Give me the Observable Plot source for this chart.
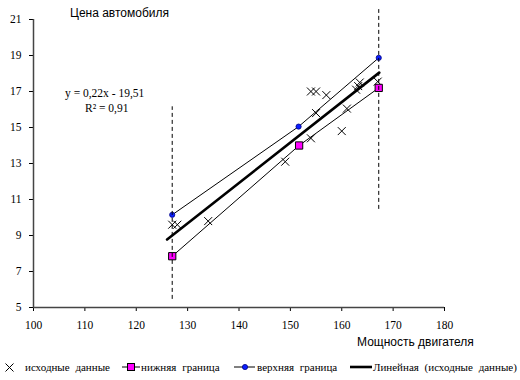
<!DOCTYPE html>
<html>
<head>
<meta charset="utf-8">
<script src="https://cdn.jsdelivr.net/npm/d3@7"></script>
<script src="https://cdn.jsdelivr.net/npm/@observablehq/plot@0.6"></script>
<style>
  html, body { margin: 0; padding: 0; background: #fff; }
  #wrap { position: relative; width: 520px; height: 380px; overflow: hidden; }
  .sans { font-family: "Liberation Sans", Arial, sans-serif; font-size: 12px; color: #000; position: absolute; white-space: nowrap; }
  .serif { font-family: "Liberation Serif", "Times New Roman", serif; font-size: 11px; color: #000; position: absolute; white-space: nowrap; }
  .leg { position: absolute; top: 359px; height: 16px; display: flex; align-items: center; font-family: "Liberation Serif", "Times New Roman", serif; font-size: 11px; white-space: nowrap; word-spacing: 3px; }
  .leg svg { display: block; }
</style>
</head>
<body>
<div id="wrap"></div>
<script>
// Source data (исходные данные): engine power vs car price
const power = [127, 128, 134, 149, 154, 155, 154, 155, 157, 160, 161, 162.8, 163.2, 163.5, 167];
const price = [9.6, 9.6, 9.8, 13.1, 14.4, 15.8, 17.0, 17.0, 16.8, 14.8, 16.05, 17.1, 17.3, 17.5, 17.55];

// Lower boundary (нижняя граница)
const lowerX = [127, 151.7, 167.2];
const lowerY = [7.85, 14.0, 17.2];

// Upper boundary (верхняя граница)
const upperX = [127, 151.6, 167.2];
const upperY = [10.15, 15.05, 18.87];

// Linear trend (Линейная (исходные данные)): y = 0,22x - 19,51
const trendSlope = 0.2245;
const trendIntercept = -19.51;
const trendX = [126, 167.3];

// Vertical dashed boundaries
const boundX = [127, 167.2];
const boundLow = [5.45, 10.45];
const boundHigh = [16.15, 21.55];

// Ticks
const xTicks = [100, 110, 120, 130, 140, 150, 160, 170, 180];
const yTicks = [5, 7, 9, 11, 13, 15, 17, 19, 21];

const points = power.map((x, i) => ({x, y: price[i]}));
const lower = lowerX.map((x, i) => ({x, y: lowerY[i]}));
const upper = upperX.map((x, i) => ({x, y: upperY[i]}));
const trend = trendX.map(x => ({x, y: trendSlope * x + trendIntercept}));
const bounds = boundX.map((x, i) => ({x, y1: boundLow[i], y2: boundHigh[i]}));

const chart = Plot.plot({
  width: 520,
  height: 380,
  marginLeft: 33,
  marginRight: 76,
  marginTop: 19,
  marginBottom: 73,
  style: { fontFamily: "'Liberation Serif', 'Times New Roman', serif", fontSize: "11.5px", background: "#fff", color: "#000" },
  x: { domain: [100, 180], ticks: xTicks, tickSize: 4, tickPadding: 9, label: null },
  y: { domain: [5, 21], ticks: yTicks, tickSize: 4, tickPadding: 8, label: null },
  marks: [
    Plot.ruleX([100], { y1: 5, y2: 21, stroke: "#444", strokeWidth: 1.5 }),
    Plot.ruleY([5], { x1: 100, x2: 180, stroke: "#444", strokeWidth: 1.5 }),
    Plot.line(lower, { x: "x", y: "y", stroke: "#000", strokeWidth: 1 }),
    Plot.line(upper, { x: "x", y: "y", stroke: "#000", strokeWidth: 1 }),
    Plot.line(trend, { x: "x", y: "y", stroke: "#000", strokeWidth: 2.6 }),
    Plot.dot(points, { x: "x", y: "y", symbol: "times", r: 3.7, stroke: "#000", strokeWidth: 1 }),
    Plot.dot(lower, { x: "x", y: "y", symbol: "square", r: 4.1, fill: "#ff00ff", stroke: "#000", strokeWidth: 1 }),
    Plot.dot(upper, { x: "x", y: "y", r: 2.6, fill: "#0a1eff", stroke: "#000080", strokeWidth: 0.8 }),
    Plot.ruleX(bounds, { x: "x", y1: "y1", y2: "y2", stroke: "#000", strokeWidth: 1, strokeDasharray: "4,3" })
  ]
});

const wrap = document.getElementById("wrap");
wrap.appendChild(chart);

function addText(cls, txt, left, top, extra) {
  const d = document.createElement("div");
  d.className = cls;
  d.textContent = txt;
  d.style.left = left + "px";
  d.style.top = top + "px";
  if (extra) Object.assign(d.style, extra);
  wrap.appendChild(d);
  return d;
}
addText("sans", "Цена автомобиля", 70, 6);
addText("sans", "Мощность двигателя", 357, 335);
addText("serif", "y = 0,22x - 19,51", 65, 87, { fontSize: "11.5px" });
const r2 = document.createElement("div");
r2.className = "serif";
r2.style.left = "85px"; r2.style.top = "102px"; r2.style.fontSize = "11.5px";
r2.innerHTML = "R² = 0,91";
wrap.appendChild(r2);

// Legend
function legItem(left, swatch, label, gap) {
  const d = document.createElement("div");
  d.className = "leg";
  d.style.left = left + "px";
  d.innerHTML = swatch + `<span style="margin-left:${gap}px">${label}</span>`;
  wrap.appendChild(d);
}
legItem(5, `<svg width="9" height="9"><path d="M0.5,0.5L8.5,8.5M8.5,0.5L0.5,8.5" stroke="#000" stroke-width="1"/></svg>`, "исходные данные", 11);
legItem(122, `<svg width="18" height="10"><line x1="0" y1="5" x2="18" y2="5" stroke="#000"/><rect x="5.5" y="1.5" width="7" height="7" fill="#ff00ff" stroke="#000"/></svg>`, "нижняя граница", 1);
legItem(234, `<svg width="21" height="10"><line x1="0" y1="5" x2="21" y2="5" stroke="#000"/><circle cx="11" cy="5" r="2.6" fill="#0a1eff" stroke="#000080" stroke-width="0.8"/></svg>`, "верхняя граница", 2);
legItem(350, `<svg width="22" height="10"><line x1="0" y1="5" x2="22" y2="5" stroke="#000" stroke-width="2.6"/></svg>`, "Линейная (исходные данные)", 1);
</script>
</body>
</html>
